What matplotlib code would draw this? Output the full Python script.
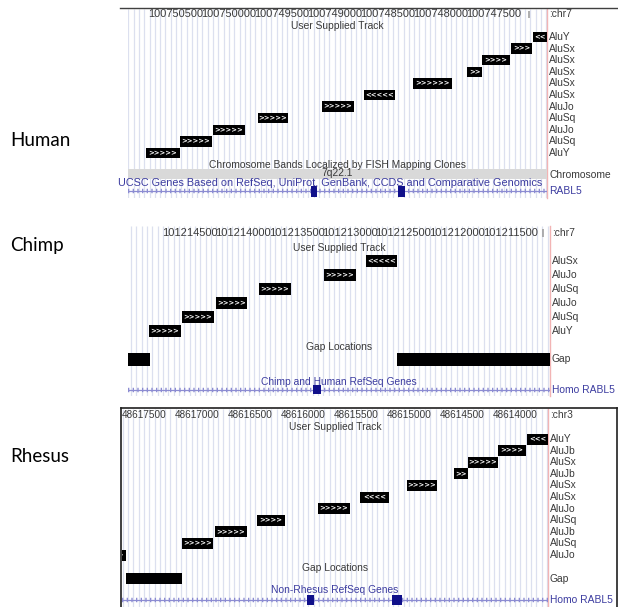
import numpy as np
import matplotlib
matplotlib.use("Agg")
import matplotlib.pyplot as plt
from matplotlib.lines import Line2D
from matplotlib.transforms import Bbox

W, H = 618, 607
BROWSER_FONT = "Liberation Sans"
GRID = "#dce0ef"
RED = "#f2b4b4"
TEXT = "#3a3a3a"
BLUE_TEXT = "#3c3ca0"
GENE_LINE = "#8c8cd2"
EXON = "#10108a"

# Human chr7 (alus listed bottom row -> top row)
human_ruler = [100750500, 100750000, 100749500, 100749000, 100748500, 100748000, 100747500]
human_view = [100750954, 100746994]
human_alu_start = [100750784, 100750462, 100750150, 100749725, 100749120, 100748723,
                   100748260, 100747750, 100747608, 100747334, 100747126]
human_alu_end = [100750462, 100750160, 100749848, 100749442, 100748818, 100748430,
                 100747892, 100747608, 100747344, 100747136, 100746985]
human_alu_strand = ['>', '>', '>', '>', '>', '<', '>', '>', '>', '>', '<']
human_alu_name = ['AluY', 'AluSq', 'AluJo', 'AluSq', 'AluJo', 'AluSx',
                  'AluSx', 'AluSx', 'AluSx', 'AluSx', 'AluY']
human_band = "7q22.1"
human_exon_start = [100749224, 100748402]
human_exon_end = [100749168, 100748336]

# Chimp chr7
chimp_ruler = [101214500, 101214000, 101213500, 101213000, 101212500, 101212000, 101211500]
chimp_view = [101215078, 101211128]
chimp_alu_start = [101214881, 101214572, 101214254, 101213851, 101213243, 101212849]
chimp_alu_end = [101214581, 101214273, 101213964, 101213552, 101212943, 101212559]
chimp_alu_strand = ['>', '>', '>', '>', '>', '<']
chimp_alu_name = ['AluY', 'AluSq', 'AluJo', 'AluSq', 'AluJo', 'AluSx']
chimp_gap_start = [101215078, 101212559]
chimp_gap_end = [101214872, 101211128]
chimp_exon_start = [101213346]
chimp_exon_end = [101213271]

# Rhesus chr3
rhesus_ruler = [48617500, 48617000, 48616500, 48616000, 48615500, 48615000, 48614500, 48614000]
rhesus_view = [48617707, 48613690]
rhesus_alu_start = [48617821, 48617142, 48616830, 48616434, 48615859, 48615463,
                    48615020, 48614577, 48614445, 48614162, 48613888]
rhesus_alu_end = [48617670, 48616849, 48616529, 48616170, 48615557, 48615190,
                  48614737, 48614445, 48614162, 48613898, 48613690]
rhesus_alu_strand = ['>', '>', '>', '>', '>', '<', '>', '>', '>', '>', '<']
rhesus_alu_name = ['AluJo', 'AluSq', 'AluJb', 'AluSq', 'AluJo', 'AluSx',
                   'AluSx', 'AluJb', 'AluSx', 'AluJb', 'AluY']
rhesus_gap_start = [48617670]
rhesus_gap_end = [48617142]
rhesus_exon_start = [48615963, 48615161]
rhesus_exon_end = [48615897, 48615067]

fig = plt.figure(figsize=(W / 100, H / 100), dpi=100)
fig.patch.set_facecolor('white')


def make_axes(x0, y0, x1, y1, view):
    ax = fig.add_axes([x0 / W, 1 - y1 / H, (x1 - x0) / W, (y1 - y0) / H])
    ax.set_xlim(view[0], view[1])
    ax.set_ylim(y1, y0)
    ax.axis('off')
    lo, hi = min(view), max(view)
    grid = np.arange(np.ceil(lo / 50) * 50, hi, 50)
    ax.vlines(grid, y0, y1, color=GRID, lw=0.9, zorder=0)
    ax.axvline(view[1], color=RED, lw=1, zorder=1, clip_on=False)
    return ax


def side_label(ax, y, text, color=TEXT, size=7.4):
    ax.annotate(text, xy=(1, y), xycoords=ax.get_yaxis_transform(), xytext=(2, 0),
                textcoords='offset pixels', va='center', ha='left', fontsize=size,
                color=color, family=BROWSER_FONT, annotation_clip=False)


def title(ax, y, text, color=TEXT):
    ax.text(0.5, y, text, transform=ax.get_yaxis_transform(), ha='center', va='center',
            fontsize=7.4, color=color, family=BROWSER_FONT)


def draw_ruler(ax, ticks, y, size, chrom):
    for t in ticks:
        ax.text(t, y, str(t), ha='center', va='center', fontsize=size,
                color=TEXT, family=BROWSER_FONT)
    side_label(ax, y, ':' + chrom)


def draw_alus(ax, starts, ends, strands, names, row0, step, h):
    starts = np.array(starts)
    ends = np.array(ends)
    rows = row0 - step * np.arange(len(starts))
    ax.barh(rows, ends - starts, left=starts, height=h, color='black', zorder=2)
    for s, e, st, nm, y in zip(starts, ends, strands, names, rows):
        px = abs(ax.transData.transform((s, 0))[0] - ax.transData.transform((e, 0))[0])
        n = max(1, int(round(px / 6.5)))
        ax.text((s + e) / 2, y, st * n, color='white', fontsize=4.9, fontweight='bold',
                ha='center', va='center', zorder=3, clip_on=True)
        side_label(ax, y, nm)


def draw_gaps(ax, starts, ends, y, h):
    starts = np.array(starts)
    ends = np.array(ends)
    ax.barh([y] * len(starts), ends - starts, left=starts, height=h, color='black', zorder=2)
    side_label(ax, y, 'Gap')


def draw_gene(ax, view, y, exon_starts, exon_ends, h, label):
    ax.plot(view, [y, y], color=GENE_LINE, lw=0.9, zorder=2, solid_capstyle='butt')
    ax.plot(view, [y, y], color=GENE_LINE, lw=3.2, ls=(0, (0.3, 0.75)), zorder=2)
    es = np.array(exon_starts)
    ee = np.array(exon_ends)
    ax.barh([y] * len(es), ee - es, left=es, height=h, color=EXON, zorder=3)
    side_label(ax, y, label, color=BLUE_TEXT)


# ---------------- Human ----------------
ax_h = make_axes(128, 9, 547, 198, human_view)
draw_ruler(ax_h, human_ruler, 14, 7.9, 'chr7')
ax_h.vlines(100747164, 11, 18, color='#a0a0a0', lw=1.2)
title(ax_h, 26, 'User Supplied Track')
draw_alus(ax_h, human_alu_start, human_alu_end, human_alu_strand, human_alu_name, 153, 11.6, 10.5)
title(ax_h, 165, 'Chromosome Bands Localized by FISH Mapping Clones')
ax_h.barh(174, human_view[1] - human_view[0], left=human_view[0], height=10,
          color='#d9d9d9', zorder=1)
ax_h.text(0.5, 173.5, human_band, transform=ax_h.get_yaxis_transform(), ha='center',
          va='center', fontsize=7.4, color=TEXT, family=BROWSER_FONT, zorder=3)
side_label(ax_h, 175, 'Chromosome')
draw_gene(ax_h, human_view, 191, human_exon_start, human_exon_end, 11, 'RABL5')
t = fig.text(118 / W, 1 - 183 / H, 'UCSC Genes Based on RefSeq, UniProt, GenBank, CCDS and Comparative Genomics',
             ha='left', va='center', fontsize=7.8, color=BLUE_TEXT, family=BROWSER_FONT)
t.set_clip_box(Bbox([[118, 0], [548, H]]))
t.set_clip_on(True)
fig.add_artist(Line2D([120 / W, 1], [1 - 8 / H, 1 - 8 / H], color='#404040', lw=1))

# ---------------- Chimp ----------------
ax_c = make_axes(128, 226, 550, 396, chimp_view)
draw_ruler(ax_c, chimp_ruler, 233, 8.0, 'chr7')
ax_c.vlines(101211193, 229, 237, color='#a0a0a0', lw=1.2)
title(ax_c, 248, 'User Supplied Track')
draw_alus(ax_c, chimp_alu_start, chimp_alu_end, chimp_alu_strand, chimp_alu_name, 331, 14, 12.5)
title(ax_c, 347, 'Gap Locations')
draw_gaps(ax_c, chimp_gap_start, chimp_gap_end, 359.5, 13)
title(ax_c, 382, 'Chimp and Human RefSeq Genes', color=BLUE_TEXT)
draw_gene(ax_c, chimp_view, 390, chimp_exon_start, chimp_exon_end, 9, 'Homo RABL5')

# ---------------- Rhesus ----------------
ax_r = make_axes(122, 409, 548, 607, rhesus_view)
draw_ruler(ax_r, rhesus_ruler, 415, 7.2, 'chr3')
title(ax_r, 427, 'User Supplied Track')
draw_alus(ax_r, rhesus_alu_start, rhesus_alu_end, rhesus_alu_strand, rhesus_alu_name, 555, 11.6, 11)
title(ax_r, 568, 'Gap Locations')
draw_gaps(ax_r, rhesus_gap_start, rhesus_gap_end, 578.5, 11.5)
title(ax_r, 590, 'Non-Rhesus RefSeq Genes', color=BLUE_TEXT)
draw_gene(ax_r, rhesus_view, 600, rhesus_exon_start, rhesus_exon_end, 10, 'Homo RABL5')
for xs, ys in [([121, 121], [607, 408]), ([121, 617], [408, 408]), ([617, 617], [408, 607])]:
    fig.add_artist(Line2D([x / W for x in xs], [1 - y / H for y in ys], color='#202020', lw=1.2))

# species labels
for name, y in [('Human', 140), ('Chimp', 245), ('Rhesus', 456)]:
    fig.text(10 / W, 1 - y / H, name, ha='left', va='center', fontsize=13.5,
             family='Lato', color='black')

fig.savefig('out.png', dpi=100, facecolor='white')
